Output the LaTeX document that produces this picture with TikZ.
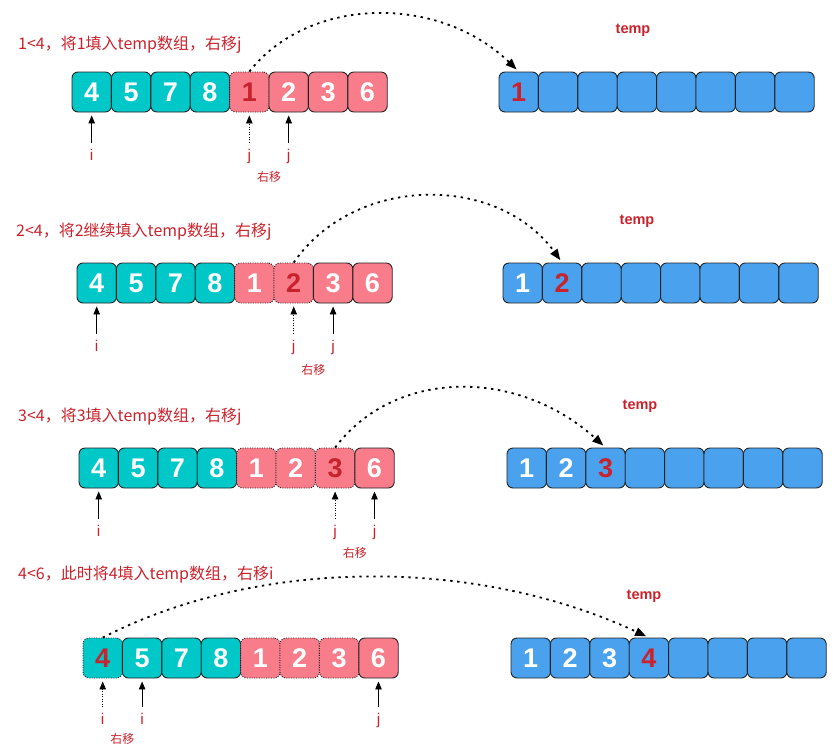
\documentclass[tikz,border=0pt]{standalone}
\usepackage{fontspec}
\setmainfont{Liberation Sans}
\newfontfamily\cjk{Noto Sans CJK SC}
\usetikzlibrary{arrows.meta}
\definecolor{tred}{HTML}{C8232C}
\definecolor{bd}{HTML}{222222}
\definecolor{cyf}{HTML}{00C8C8}
\definecolor{pkf}{HTML}{F87C8A}
\definecolor{blf}{HTML}{4AA2EE}
\tikzset{
  box/.style={draw=bd, line width=0.9pt, rounded corners=6pt, minimum width=39.4pt, minimum height=40pt, inner sep=0pt, font=\fontsize{27}{27}\selectfont\bfseries, text=white},
  bCy/.style={box, fill=cyf},
  bCyDR/.style={box, fill=cyf, dash pattern=on 1pt off 1.4pt, text=tred},
  bPk/.style={box, fill=pkf},
  bPkD/.style={box, fill=pkf, dash pattern=on 1pt off 1.4pt},
  bPkDR/.style={box, fill=pkf, dash pattern=on 1pt off 1.4pt, text=tred},
  bBl/.style={box, fill=blf},
  bBlR/.style={box, fill=blf, text=tred},
  ttl/.style={anchor=west, inner sep=0pt, text=tred, font=\cjk\fontsize{16}{18}\selectfont},
  tmp/.style={inner sep=0pt, text=tred, font=\fontsize{14.5}{15}\selectfont\bfseries},
  lbl/.style={inner sep=0pt, text height=11pt, text depth=4pt, text=tred, font=\fontsize{15.5}{16}\selectfont},
  mv/.style={inner sep=0pt, text=tred, font=\cjk\fontsize{12}{13}\selectfont},
  ptr/.style={-{Triangle[length=8pt,width=6.5pt]}, line width=0.9pt, shorten <=6pt, shorten >=3pt},
  ptrd/.style={ptr, dash pattern=on 1pt off 1.5pt},
  curv/.style={-{Triangle[length=11pt,width=8.5pt]}, line width=1.8pt, dash pattern=on 2.4pt off 4.6pt, shorten >=3pt}
}
\begin{document}
\begin{tikzpicture}[x=1pt,y=-1pt]
\useasboundingbox (0,0) rectangle (837,747);
% ---------------- Row 1 ----------------
\node[ttl] (t1) at (18,45) {1<4，将1填入temp数组，右移j};
\node[tmp] (tp1) at (633,30) {temp};
\foreach \i/\s/\t in {1/bCy/4,2/bCy/5,3/bCy/7,4/bCy/8,5/bPkDR/1,6/bPk/2,7/bPk/3,8/bPk/6}
  \node[\s] (r1a\i) at ({72+39.4*(\i-0.5)},92) {\t};
\node[bBlR] (r1t1) at ({499+39.4*0.5},92) {1};
\foreach \i in {2,...,8}
  \node[bBl] (r1t\i) at ({499+39.4*(\i-0.5)},92) {};
\node[lbl] (r1i) at ({72+39.4*0.5},156.5) {i};
\node[lbl] (r1j0) at ({72+39.4*4.5},156.5) {j};
\node[lbl] (r1j) at ({72+39.4*5.5},156.5) {j};
\node[mv] (r1m) at ({72+39.4*5},177) {右移};
\draw[ptr] (r1i) -- (r1a1);
\draw[ptrd] (r1j0) -- (r1a5);
\draw[ptr] (r1j) -- (r1a6);
\draw[curv] (r1a5.north) .. controls (310,-5) and (440,-5) .. (r1t1.north);
% ---------------- Row 2 ----------------
\node[ttl] (t2) at (16,232) {2<4，将2继续填入temp数组，右移j};
\node[tmp] (tp2) at (637,221) {temp};
\foreach \i/\s/\t in {1/bCy/4,2/bCy/5,3/bCy/7,4/bCy/8,5/bPkD/1,6/bPkDR/2,7/bPk/3,8/bPk/6}
  \node[\s] (r2a\i) at ({77+39.4*(\i-0.5)},283) {\t};
\node[bBl] (r2t1) at ({503+39.4*0.5},283) {1};
\node[bBlR] (r2t2) at ({503+39.4*1.5},283) {2};
\foreach \i in {3,...,8}
  \node[bBl] (r2t\i) at ({503+39.4*(\i-0.5)},283) {};
\node[lbl] (r2i) at ({77+39.4*0.5},347.5) {i};
\node[lbl] (r2j0) at ({77+39.4*5.5},347.5) {j};
\node[lbl] (r2j) at ({77+39.4*6.5},347.5) {j};
\node[mv] (r2m) at ({77+39.4*6},370) {右移};
\draw[ptr] (r2i) -- (r2a1);
\draw[ptrd] (r2j0) -- (r2a6);
\draw[ptr] (r2j) -- (r2a7);
\draw[curv] (r2a6.north) .. controls (355,174) and (498,174) .. (r2t2.north);
% ---------------- Row 3 ----------------
\node[ttl] (t3) at (18,417) {3<4，将3填入temp数组，右移j};
\node[tmp] (tp3) at (640,406) {temp};
\foreach \i/\s/\t in {1/bCy/4,2/bCy/5,3/bCy/7,4/bCy/8,5/bPkD/1,6/bPkD/2,7/bPkDR/3,8/bPk/6}
  \node[\s] (r3a\i) at ({79+39.4*(\i-0.5)},468) {\t};
\node[bBl] (r3t1) at ({507+39.4*0.5},468) {1};
\node[bBl] (r3t2) at ({507+39.4*1.5},468) {2};
\node[bBlR] (r3t3) at ({507+39.4*2.5},468) {3};
\foreach \i in {4,...,8}
  \node[bBl] (r3t\i) at ({507+39.4*(\i-0.5)},468) {};
\node[lbl] (r3i) at ({79+39.4*0.5},532.5) {i};
\node[lbl] (r3j0) at ({79+39.4*6.5},532.5) {j};
\node[lbl] (r3j) at ({79+39.4*7.5},532.5) {j};
\node[mv] (r3m) at ({79+39.4*7},553) {右移};
\draw[ptr] (r3i) -- (r3a1);
\draw[ptrd] (r3j0) -- (r3a7);
\draw[ptr] (r3j) -- (r3a8);
\draw[curv] (r3a7.north) .. controls (395,368) and (518,368) .. (r3t3.north);
% ---------------- Row 4 ----------------
\node[ttl] (t4) at (18,575) {4<6，此时将4填入temp数组，右移i};
\node[tmp] (tp4) at (644,596) {temp};
\foreach \i/\s/\t in {1/bCyDR/4,2/bCy/5,3/bCy/7,4/bCy/8,5/bPkD/1,6/bPkD/2,7/bPkD/3,8/bPk/6}
  \node[\s] (r4a\i) at ({83+39.4*(\i-0.5)},658) {\t};
\node[bBl] (r4t1) at ({511+39.4*0.5},658) {1};
\node[bBl] (r4t2) at ({511+39.4*1.5},658) {2};
\node[bBl] (r4t3) at ({511+39.4*2.5},658) {3};
\node[bBlR] (r4t4) at ({511+39.4*3.5},658) {4};
\foreach \i in {5,...,8}
  \node[bBl] (r4t\i) at ({511+39.4*(\i-0.5)},658) {};
\node[lbl] (r4i0) at ({83+39.4*0.5},721) {i};
\node[lbl] (r4i) at ({83+39.4*1.5},721) {i};
\node[lbl] (r4j) at ({83+39.4*7.5},721) {j};
\node[mv] (r4m) at ({83+39.4*1},739) {右移};
\draw[ptrd] (r4i0) -- (r4a1);
\draw[ptr] (r4i) -- (r4a2);
\draw[ptr] (r4j) -- (r4a8);
\draw[curv] (r4a1.north) .. controls (260,557) and (476,557) .. (r4t4.north);
\end{tikzpicture}
\end{document}
